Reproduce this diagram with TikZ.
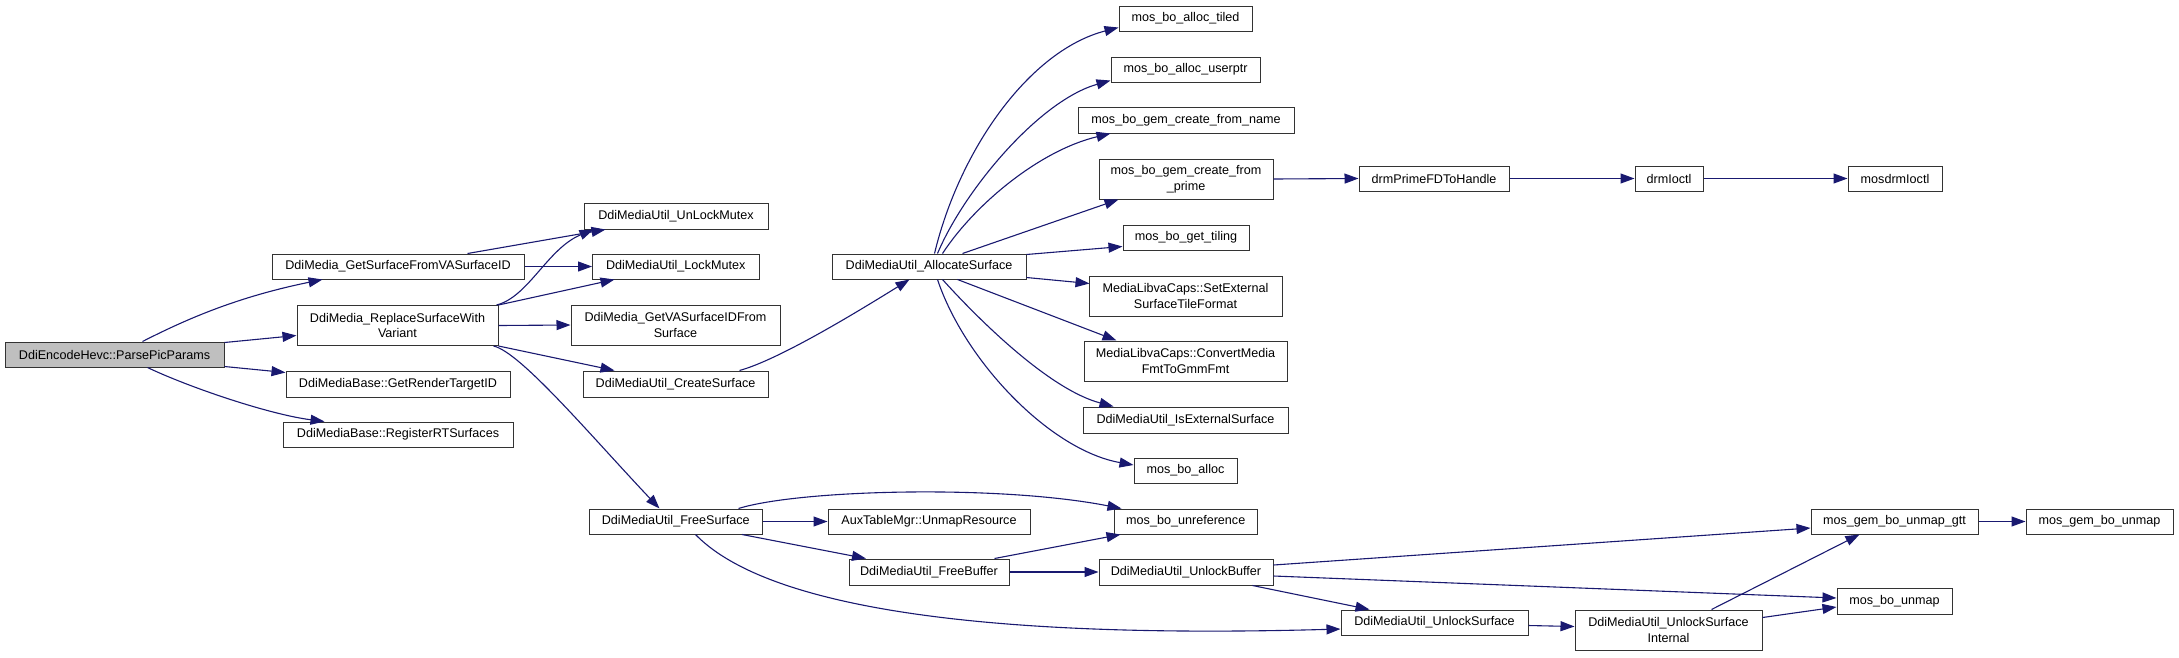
\documentclass[tikz,border=0pt]{standalone}
\usepackage{fontspec}
\setmainfont{Liberation Sans}
\usetikzlibrary{arrows.meta,calc}
\definecolor{edgecol}{HTML}{191970}
\tikzset{
  box/.style={draw=black!80, line width=1pt, fill=white, inner sep=0pt, align=center,
    font=\fontsize{12.6}{15.5}\selectfont},
  rootbox/.style={box, fill=black!25},
  edge/.style={draw=edgecol, line width=1.1pt, -{Triangle[length=14pt,width=10pt]}},
}
\newcommand\mybox[7][box]{\node[#1,minimum width={#5-#3},minimum height={#6-#4}] (#2) at ({(#3+#5)/2},{(#4+#6)/2}) {#7};}
\begin{document}
\begin{tikzpicture}[x=1pt,y=-1pt]
\useasboundingbox (0,0) rectangle (2179,657);
% nodes
\mybox[rootbox]{root}{5}{342}{224}{367}{DdiEncodeHevc::ParsePicParams}
\mybox{gs}{272}{254}{524}{279}{DdiMedia\_GetSurfaceFromVASurfaceID}
\mybox{rep}{297}{305.5}{498}{345.5}{DdiMedia\_ReplaceSurfaceWith\\Variant}
\mybox{grt}{286}{371}{510}{397}{DdiMediaBase::GetRenderTargetID}
\mybox{rrt}{283}{422}{513}{447}{DdiMediaBase::RegisterRTSurfaces}
\mybox{unl}{584}{203}{768}{229}{DdiMediaUtil\_UnLockMutex}
\mybox{lck}{592.5}{254}{759}{279}{DdiMediaUtil\_LockMutex}
\mybox{gva}{571}{305}{780}{345}{DdiMedia\_GetVASurfaceIDFrom\\Surface}
\mybox{crs}{583}{371}{768}{397}{DdiMediaUtil\_CreateSurface}
\mybox{frs}{589.5}{509}{762}{534}{DdiMediaUtil\_FreeSurface}
\mybox{als}{832}{254}{1026}{279}{DdiMediaUtil\_AllocateSurface}
\mybox{aux}{828}{509}{1030}{534}{AuxTableMgr::UnmapResource}
\mybox{fbf}{849}{559}{1009}{585}{DdiMediaUtil\_FreeBuffer}
\mybox{tld}{1119}{6}{1252}{31}{mos\_bo\_alloc\_tiled}
\mybox{usp}{1111}{57}{1260}{82}{mos\_bo\_alloc\_userptr}
\mybox{gcn}{1078}{107}{1294}{133}{mos\_bo\_gem\_create\_from\_name}
\mybox{gcp}{1099}{159}{1273}{199}{mos\_bo\_gem\_create\_from\\\_prime}
\mybox{gtl}{1123}{225}{1249}{250}{mos\_bo\_get\_tiling}
\mybox{sxt}{1089}{276}{1282}{316}{MediaLibvaCaps::SetExternal\\SurfaceTileFormat}
\mybox{cmf}{1084}{341}{1287}{381}{MediaLibvaCaps::ConvertMedia\\FmtToGmmFmt}
\mybox{ies}{1083}{407}{1288}{433}{DdiMediaUtil\_IsExternalSurface}
\mybox{mba}{1134}{458}{1237}{483}{mos\_bo\_alloc}
\mybox{unr}{1114.5}{509}{1257}{534}{mos\_bo\_unreference}
\mybox{ulb}{1099}{559}{1273}{585}{DdiMediaUtil\_UnlockBuffer}
\mybox{dpf}{1359}{166}{1509}{191}{drmPrimeFDToHandle}
\mybox{uls}{1341}{610}{1528}{635}{DdiMediaUtil\_UnlockSurface}
\mybox{dio}{1635}{166}{1703}{191}{drmIoctl}
\mybox{usi}{1575}{610}{1762}{650}{DdiMediaUtil\_UnlockSurface\\Internal}
\mybox{mdi}{1848}{166}{1942}{191}{mosdrmIoctl}
\mybox{gtt}{1811}{509}{1978}{534}{mos\_gem\_bo\_unmap\_gtt}
\mybox{bum}{1837}{588}{1952}{614}{mos\_bo\_unmap}
\mybox{gbu}{2026}{509}{2173}{534}{mos\_gem\_bo\_unmap}
% edges from root
\draw[edge] ($(root.north west)+(138,0)$) .. controls +(47,-24) and +(-83,17) .. ($(gs.south west)+(51,0)$);
\draw[edge] ($(root.north east)+(0,1)$) -- ($(rep.west)+(0,10)$);
\draw[edge] ($(root.south east)+(0,-1)$) -- ($(grt.north west)+(0,2)$);
\draw[edge] ($(root.south west)+(143,0)$) .. controls +(42,20) and +(-55,-7) .. ($(rrt.north west)+(42,0)$);
% second column
\draw[edge] ($(gs.north west)+(196,0)$) -- ($(unl.south west)+(22,0)$);
\draw[edge] (gs.east) -- (lck.west);
\draw[edge] ($(rep.north east)+(-2,0)$) .. controls +(32,-8) and +(-46,19) .. ($(unl.south west)+(10,0)$);
\draw[edge] (rep.north east) -- ($(lck.south west)+(22.5,0)$);
\draw[edge] (rep.east) -- (gva.west);
\draw[edge] (rep.south east) -- ($(crs.north west)+(32,0)$);
\draw[edge] ($(rep.south east)+(-5,0)$) .. controls +(27,6) and +(-69,-73) .. ($(frs.north west)+(70.5,0)$);
% create surface
\draw[edge] ($(crs.north west)+(157,0)$) .. controls +(40,-11) and +(-50,31) .. ($(als.south west)+(78,0)$);
% allocate surface
\draw[edge] ($(als.north west)+(103,0)$) .. controls +(25,-104) and +(-89,23) .. ($(tld.south west)+(0,-4)$);
\draw[edge] ($(als.north west)+(106,0)$) .. controls +(27,-64) and +(-71,20) .. ($(usp.south west)+(0,-2)$);
\draw[edge] ($(als.north west)+(111,0)$) .. controls +(32,-49) and +(-71,17) .. ($(gcn.south west)+(33,0)$);
\draw[edge] ($(als.north west)+(131,0)$) -- ($(gcp.south west)+(20,0)$);
\draw[edge] ($(als.north east)+(0,1)$) -- ($(gtl.south west)+(0,-4)$);
\draw[edge] ($(als.south east)+(0,-2)$) -- ($(sxt.north west)+(1,8)$);
\draw[edge] ($(als.south west)+(126,0)$) -- ($(cmf.north west)+(33,0)$);
\draw[edge] ($(als.south west)+(111,0)$) .. controls +(37,41) and +(-64,-17) .. ($(ies.north west)+(31,0)$);
\draw[edge] ($(als.south west)+(106,0)$) .. controls +(27,81) and +(-84,-15) .. ($(mba.west)+(0,-5.5)$);
% drm chain
\draw[edge] (gcp.east) -- (dpf.west);
\draw[edge] (dpf.east) -- (dio.west);
\draw[edge] (dio.east) -- (mdi.west);
% free surface
\draw[edge] ($(frs.north west)+(149.5,0)$) .. controls +(61,-19) and +(-122,-24) .. ($(unr.north west)+(7.5,0)$);
\draw[edge] (frs.east) -- (aux.west);
\draw[edge] ($(frs.south east)+(-20.5,0)$) -- ($(fbf.north west)+(17.5,0)$);
\draw[edge] ($(frs.south west)+(106.5,0)$) .. controls +(64,66) and +(-391,11) .. ($(uls.west)+(0,6.5)$);
% free buffer
\draw[edge] ($(fbf.north east)+(-15,0)$) -- ($(unr.south west)+(6.5,0)$);
\draw[edge] (fbf.east) -- (ulb.west);
% unlock buffer
\draw[edge] ($(ulb.east)+(0,-7)$) -- ($(gtt.west)+(0,6.5)$);
\draw[edge] ($(ulb.east)+(0,4)$) -- ($(bum.west)+(0,-3)$);
\draw[edge] ($(ulb.south east)+(-21,0)$) -- ($(uls.north west)+(29,0)$);
% unlock surface
\draw[edge] ($(uls.east)+(0,3)$) -- ($(usi.west)+(0,-3.5)$);
\draw[edge] ($(usi.north west)+(137,0)$) -- ($(gtt.south west)+(49,0)$);
\draw[edge] ($(usi.north east)+(0,8)$) -- ($(bum.west)+(0,6)$);
\draw[edge] (gtt.east) -- (gbu.west);
\end{tikzpicture}
\end{document}
